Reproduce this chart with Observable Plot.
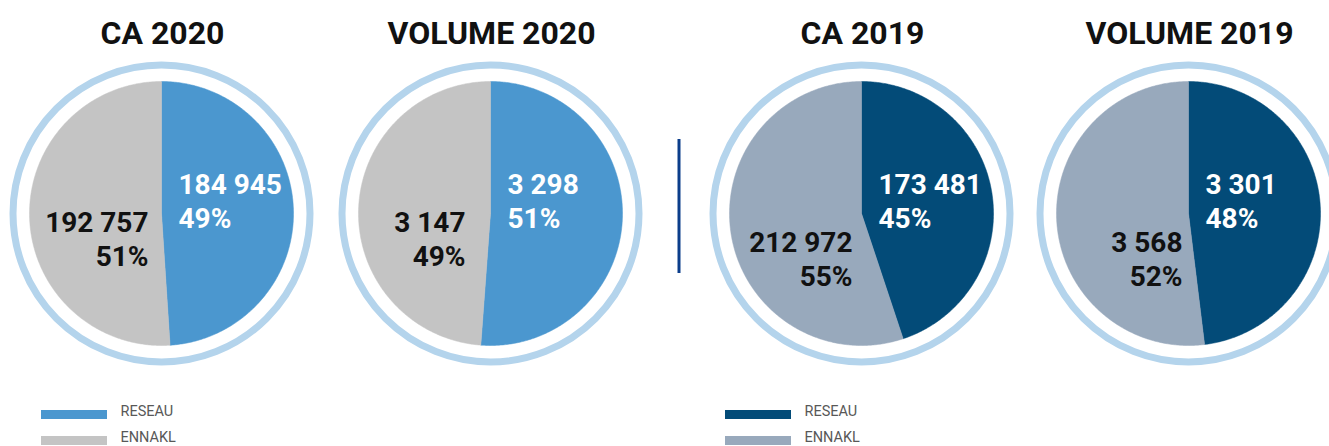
<!DOCTYPE html>
<html>
<head>
<meta charset="utf-8">
<script src="https://cdn.jsdelivr.net/npm/d3@7"></script>
<script src="https://cdn.jsdelivr.net/npm/@observablehq/plot@0.6"></script>
<style>
  html, body { margin: 0; padding: 0; background: #fff; }
  #chart svg { display: block; }
</style>
</head>
<body>
<div id="chart"></div>
<script>
// ---- data ----
const titles = ["CA 2020", "VOLUME 2020", "CA 2019", "VOLUME 2019"];
const categories = ["RESEAU", "ENNAKL"];
const reseau = [184945, 3298, 173481, 3301];
const ennakl = [192757, 3147, 212972, 3568];
const legendLabels = ["RESEAU", "ENNAKL"];

// ---- styles / layout ----
const W = 1329, H = 446;
const colors2020 = {RESEAU: "#4b97cf", ENNAKL: "#c4c4c4"};
const colors2019 = {RESEAU: "#034b78", ENNAKL: "#98a9bc"};
const palettes = [colors2020, colors2020, colors2019, colors2019];
const ringColor = "#b4d4ec";
const cx = [161, 490, 861, 1188];
const cy = 213;
const R = 132;
const ennaklLabelDx = [-13, -25, -9, -6];
const ennaklLabelDy = [52, 52, 72, 72];
const font = "Roboto, 'DejaVu Sans Condensed', sans-serif";

const fmt = d3.formatLocale({thousands: " ", grouping: [3], decimal: ","}).format(",d");

// build slice polygons from values through d3.pie
const marks = [];
titles.forEach((t, i) => {
  const vals = [reseau[i], ennakl[i]];
  const total = d3.sum(vals);
  const arcs = d3.pie().sort(null).value(d => d)(vals);
  arcs.forEach((a, k) => {
    const n = Math.max(2, Math.ceil((a.endAngle - a.startAngle) / 0.01));
    const pts = [{x: 0, y: 0}];
    for (let j = 0; j <= n; j++) {
      const ang = a.startAngle + (a.endAngle - a.startAngle) * j / n;
      pts.push({x: Math.sin(ang), y: -Math.cos(ang)});
    }
    pts.push({x: 0, y: 0});
    marks.push(Plot.line(pts, {
      x: d => cx[i] + d.x * R,
      y: d => cy + d.y * R,
      fill: palettes[i][categories[k]],
      stroke: palettes[i][categories[k]],
      strokeWidth: 0.5,
      curve: "linear"
    }));
  });
  // outer ring
  marks.push(Plot.dot([0], {x: () => cx[i], y: () => cy, r: R + 16.5, stroke: ringColor, strokeWidth: 7, fill: "none"}));
  // labels
  const pctR = Math.round(reseau[i] / total * 100);
  const pctE = Math.round(ennakl[i] / total * 100);
  marks.push(Plot.text([`${fmt(reseau[i])}\n${pctR}%`], {
    x: () => cx[i] + 17, y: () => cy + 14, text: d => d,
    textAnchor: "start", lineAnchor: "bottom", lineHeight: 1.2,
    fill: "#fff", fontSize: 28, fontWeight: "bold", fontFamily: font
  }));
  marks.push(Plot.text([`${fmt(ennakl[i])}\n${pctE}%`], {
    x: () => cx[i] + ennaklLabelDx[i], y: () => cy + ennaklLabelDy[i], text: d => d,
    textAnchor: "end", lineAnchor: "bottom", lineHeight: 1.2,
    fill: "#111", fontSize: 28, fontWeight: "bold", fontFamily: font
  }));
  // title
  marks.push(Plot.text([t], {
    x: () => cx[i] + 1, y: () => 43, text: d => d,
    textAnchor: "middle", lineAnchor: "bottom",
    fill: "#111", fontSize: 32, fontWeight: "bold", fontFamily: font
  }));
});

// separator
marks.push(Plot.ruleX([678.5], {y1: 139, y2: 273, stroke: "#0b3d8b", strokeWidth: 3}));

// legends
const legendX = [41, 725];
const legendPalettes = [colors2020, colors2019];
legendX.forEach((lx, g) => {
  legendLabels.forEach((lab, k) => {
    const yTop = 410 + k * 26;
    marks.push(Plot.rect([lab], {x1: () => lx, x2: () => lx + 66, y1: () => yTop, y2: () => yTop + 9, fill: legendPalettes[g][lab]}));
    marks.push(Plot.text([lab], {x: () => lx + 79, y: () => yTop + 5.5, text: d => d, textAnchor: "start", lineAnchor: "bottom",
      fill: "#585858", fontSize: 14.5, fontFamily: font}));
  });
});

const chart = Plot.plot({
  width: W, height: H,
  margin: 0,
  x: {type: "linear", domain: [0, W], range: [0, W], axis: null},
  y: {type: "linear", domain: [0, H], range: [0, H], axis: null},
  style: {background: "#fff"},
  marks
});
document.getElementById("chart").appendChild(chart);
</script>
</body>
</html>
